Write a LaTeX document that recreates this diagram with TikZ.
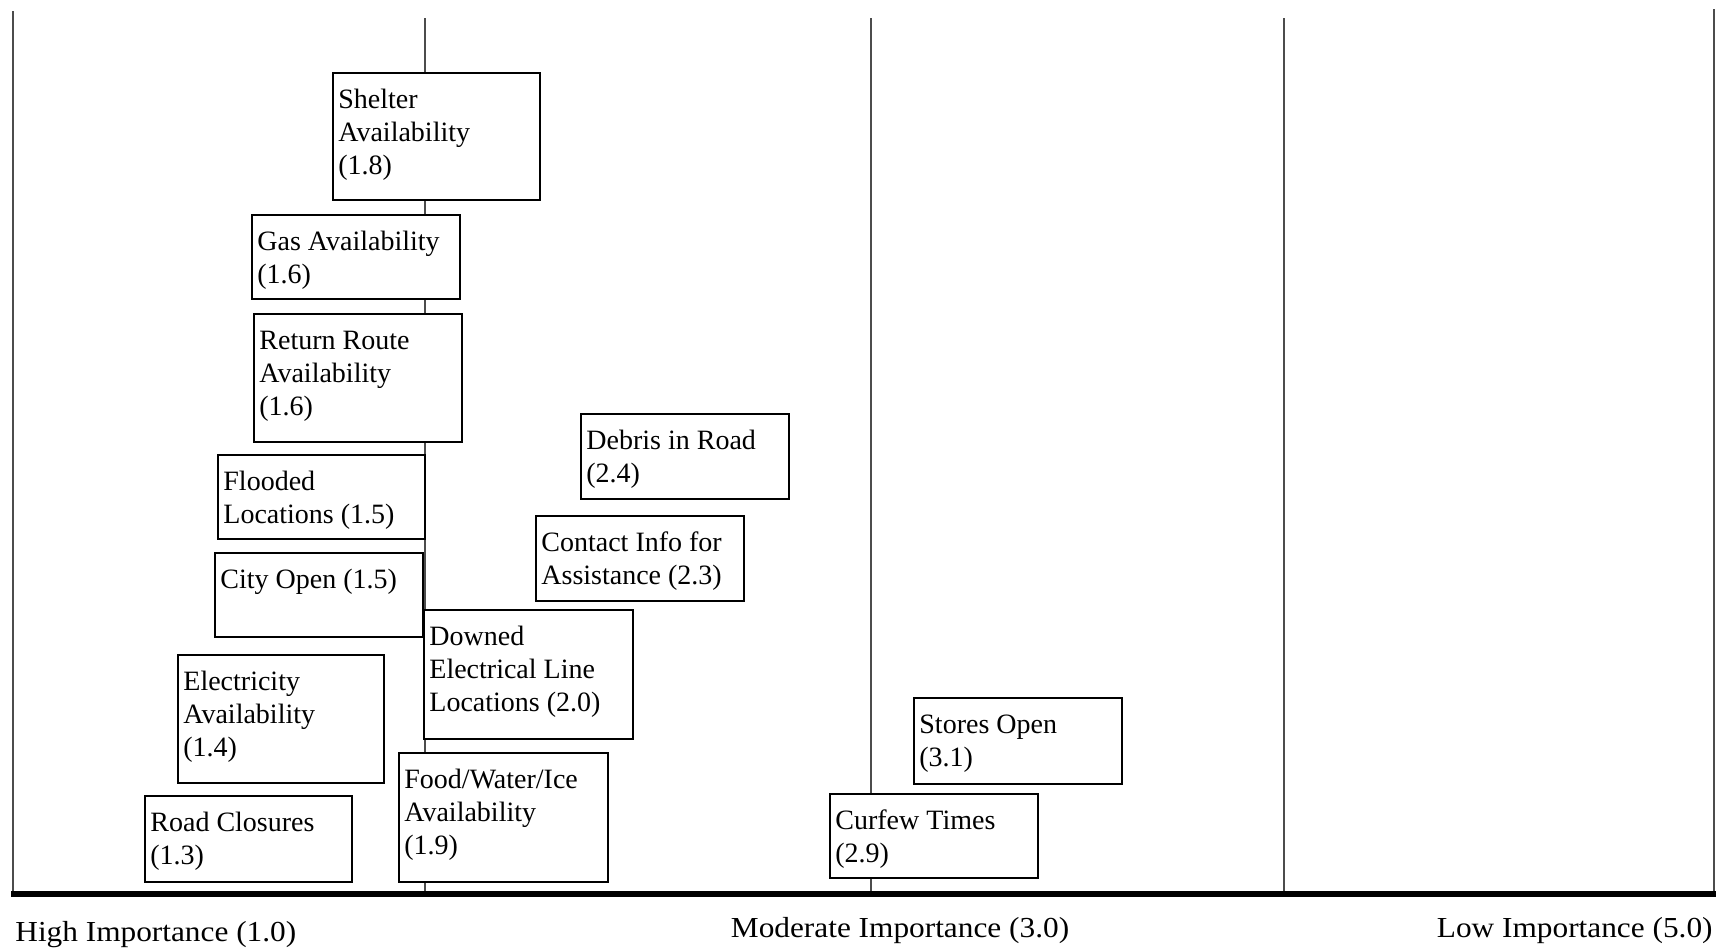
\documentclass[tikz,border=0pt]{standalone}
\usepackage{fontspec}
\setmainfont{Liberation Serif}
\newfontfamily\lblfont[FakeStretch=1.08]{Liberation Serif}
\tikzset{
  gridline/.style={line width=1pt, draw=black!70},
  axisline/.style={line width=3pt, draw=black},
  boxst/.style={draw=black, line width=1pt, fill=white, rectangle, inner sep=0pt},
  txtst/.style={anchor=north west, inner sep=0pt, align=left, font=\fontsize{14pt}{16.5pt}\selectfont},
  lbl/.style={inner sep=0pt, font=\lblfont\fontsize{14.5pt}{17pt}\selectfont}
}
% name, x, y, w, h, text  (pixel units, y downwards)
\newcommand\bx[6]{%
  \node[boxst, minimum width=#4*0.5pt, minimum height=#5*0.5pt, anchor=north west] (#1) at (#2,#3) {};
  \node[txtst] (#1t) at ([xshift=3pt,yshift=-6.45pt]#1.north west) {\strut #6};}
\begin{document}
\begin{tikzpicture}[x=0.5pt,y=-0.5pt]
\useasboundingbox (0,0) rectangle (1718,948);
% vertical grid lines
\coordinate (l0t) at (12.5,11);   \coordinate (l0b) at (12.5,891);
\coordinate (l1t) at (425,18);    \coordinate (l1b) at (425,891);
\coordinate (l3t) at (871,18);    \coordinate (l3b) at (871,891);
\coordinate (l5t) at (1284,18);   \coordinate (l5b) at (1284,891);
\coordinate (l6t) at (1713.5,9);  \coordinate (l6b) at (1713.5,891);
\draw[gridline] (l0t) -- (l0b);
\draw[gridline] (l1t) -- (l1b);
\draw[gridline] (l3t) -- (l3b);
\draw[gridline] (l5t) -- (l5b);
\draw[gridline] (l6t) -- (l6b);
% axis
\coordinate (axl) at (11,894);
\coordinate (axr) at (1715.5,894);
\draw[axisline] (axl) -- (axr);
% boxes
\bx{shelter}{332}{72}{207}{127}{Shelter\\Availability\\(1.8)}
\bx{gas}{251}{214}{208}{84}{Gas Availability\\(1.6)}
\bx{return}{253}{313}{208}{128}{Return Route\\Availability\\(1.6)}
\bx{flooded}{217}{454}{207}{84}{Flooded\\Locations (1.5)}
\bx{city}{214}{552}{208}{84}{City Open (1.5)}
\bx{elec}{177}{654}{206}{128}{Electricity\\Availability\\(1.4)}
\bx{road}{144}{795}{207}{86}{Road Closures\\(1.3)}
\bx{downed}{423}{609}{209}{129}{Downed\\Electrical Line\\Locations (2.0)}
\bx{food}{398}{752}{209}{129}{Food/Water/Ice\\Availability\\(1.9)}
\bx{debris}{580}{413}{208}{85}{Debris in Road\\(2.4)}
\bx{contact}{535}{515}{208}{85}{Contact Info for\\Assistance (2.3)}
\bx{stores}{913}{697}{208}{86}{Stores Open\\(3.1)}
\bx{curfew}{829}{793}{208}{84}{Curfew Times\\(2.9)}
% axis labels
\node[lbl, anchor=base west] (hi) at (15,941.5) {High Importance (1.0)};
\node[lbl, anchor=base west] (mod) at (730.5,937) {Moderate Importance (3.0)};
\node[lbl, anchor=base east] (low) at (1713,937) {Low Importance (5.0)};
\end{tikzpicture}
\end{document}
